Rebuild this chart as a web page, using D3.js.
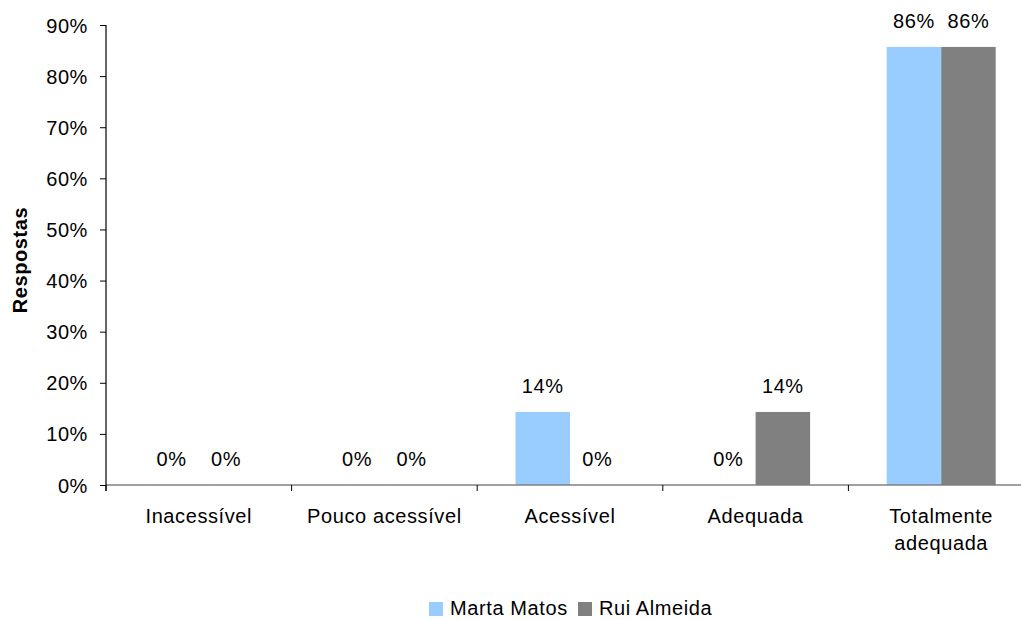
<!DOCTYPE html>
<html><head><meta charset="utf-8">
<script src="https://cdn.jsdelivr.net/npm/d3@7"></script>
<style>
body{margin:0;background:#fff;}
text{font-family:Arial,"Liberation Sans",sans-serif;font-size:20px;letter-spacing:0.6px;fill:#000;}
</style></head><body>
<svg id="c" width="1021" height="620"></svg>
<script>
const categories = ["Inacessível", "Pouco acessível", "Acessível", "Adequada", "Totalmente adequada"];
const categoryLines = [["Inacessível"], ["Pouco acessível"], ["Acessível"], ["Adequada"], ["Totalmente", "adequada"]];
const seriesNames = ["Marta Matos", "Rui Almeida"];
const martaValues = [0, 0, 0.1429, 0, 0.8571];
const ruiValues = [0, 0, 0, 0.1429, 0.8571];
const yTicks = [0, 0.1, 0.2, 0.3, 0.4, 0.5, 0.6, 0.7, 0.8, 0.9];
const colors = ["#99CCFF", "#808080"];

const svg = d3.select("#c");
const x0 = 106, yTop = 25, yBot = 485, bandW = 185.6;
const x = d3.scaleBand().domain(categories).range([x0, x0 + bandW * 5]).padding(0);
const y = d3.scaleLinear().domain([0, 0.9]).range([yBot, yTop]);
const xs = d3.scaleBand().domain(seriesNames).range([-54.5, 54.5]).padding(0);

const series = [martaValues, ruiValues];
const fmt = d3.format(".0%");

// bars
series.forEach((vals, si) => {
  svg.append("g").selectAll("rect").data(categories).join("rect")
    .attr("x", c => x(c) + x.bandwidth() / 2 + xs(seriesNames[si]))
    .attr("width", xs.bandwidth())
    .attr("y", (c, i) => y(vals[i]))
    .attr("height", (c, i) => yBot - y(vals[i]))
    .attr("fill", colors[si]);
  svg.append("g").selectAll("text").data(categories).join("text")
    .attr("x", c => x(c) + x.bandwidth() / 2 + xs(seriesNames[si]) + xs.bandwidth() / 2)
    .attr("y", (c, i) => y(vals[i]) - 19)
    .attr("text-anchor", "middle")
    .text((c, i) => fmt(vals[i]));
});

// x axis
svg.append("line").attr("x1", x0).attr("x2", 1021).attr("y1", yBot).attr("y2", yBot)
  .attr("stroke", "#808080").attr("stroke-width", 1.5);
const bounds = d3.range(0, 6).map(i => x.range()[0] + i * x.step());
svg.append("g").selectAll("line").data(bounds).join("line")
  .attr("x1", d => d).attr("x2", d => d).attr("y1", yBot).attr("y2", yBot + 6)
  .attr("stroke", "#000").attr("stroke-width", 1);
categories.forEach((c, i) => {
  const t = svg.append("text").attr("text-anchor", "middle")
    .attr("x", x(c) + x.bandwidth() / 2).attr("y", 523);
  categoryLines[i].forEach((l, j) => {
    t.append("tspan").attr("x", x(c) + x.bandwidth() / 2).attr("dy", j === 0 ? 0 : 27).text(l);
  });
});

// y axis
const yAxis = d3.axisLeft(y).tickValues(yTicks).tickFormat(fmt).tickSize(6).tickPadding(12);
const gy = svg.append("g").attr("transform", `translate(${x0},0)`).call(yAxis);
gy.select(".domain").remove();
gy.selectAll(".tick line").attr("stroke", "#000");
gy.selectAll(".tick text").attr("font-size", null).attr("font-family", null).attr("dy", "0.35em");
svg.append("line").attr("x1", x0).attr("x2", x0).attr("y1", yTop).attr("y2", yBot + 6)
  .attr("stroke", "#000").attr("stroke-width", 1.2);

// y label
svg.append("text").attr("transform", "translate(27,260) rotate(-90)")
  .attr("text-anchor", "middle").attr("font-weight", "bold").text("Respostas");

// legend
const legX = [429, 578];
seriesNames.forEach((s, i) => {
  svg.append("rect").attr("x", legX[i]).attr("y", 602).attr("width", 14).attr("height", 14).attr("fill", colors[i]);
  svg.append("text").attr("x", legX[i] + 21).attr("y", 615).text(s);
});
</script>
</body></html>
